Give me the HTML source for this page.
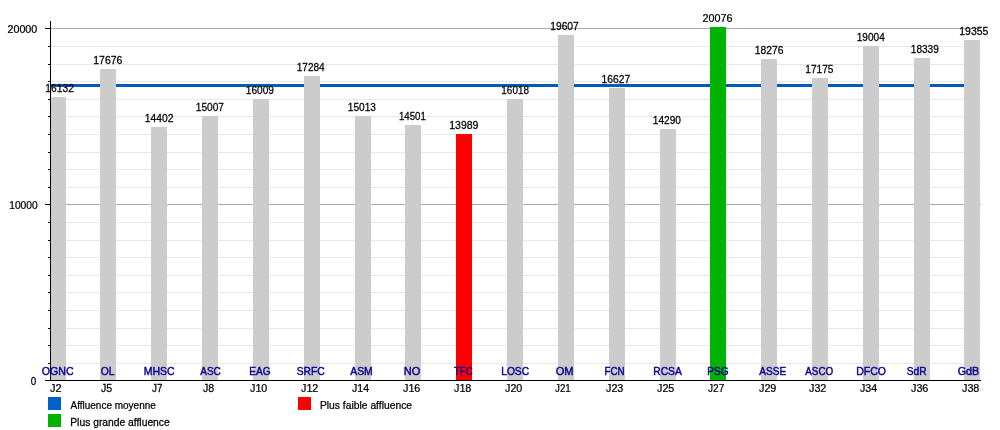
<!DOCTYPE html>
<html><head><meta charset="utf-8"><title>Affluence</title>
<style>
html,body{margin:0;padding:0;background:#fff;}
body{width:1000px;height:430px;overflow:hidden;}
svg{display:block;}
text{font-family:"Liberation Sans",Arial,Helvetica,sans-serif;font-size:10.7px;fill:#000;stroke:#000;stroke-width:.25px;white-space:pre;}
.j,.c{font-size:11px;}
.c{fill:#0b0092;stroke:#0b0092;stroke-width:.45px;}
</style></head><body>
<svg width="1000" height="430" viewBox="0 0 1000 430">
<rect width="1000" height="430" fill="#fff"/>
<g shape-rendering="crispEdges">
<rect x="51" y="363" width="930" height="1" fill="#e8e8e8"/>
<rect x="51" y="345" width="930" height="1" fill="#e8e8e8"/>
<rect x="51" y="328" width="930" height="1" fill="#e8e8e8"/>
<rect x="51" y="310" width="930" height="1" fill="#e8e8e8"/>
<rect x="51" y="292" width="930" height="1" fill="#e8e8e8"/>
<rect x="51" y="275" width="930" height="1" fill="#e8e8e8"/>
<rect x="51" y="257" width="930" height="1" fill="#e8e8e8"/>
<rect x="51" y="240" width="930" height="1" fill="#e8e8e8"/>
<rect x="51" y="222" width="930" height="1" fill="#e8e8e8"/>
<rect x="51" y="204" width="930" height="1" fill="#aaaaaa"/>
<rect x="51" y="187" width="930" height="1" fill="#e8e8e8"/>
<rect x="51" y="169" width="930" height="1" fill="#e8e8e8"/>
<rect x="51" y="152" width="930" height="1" fill="#e8e8e8"/>
<rect x="51" y="134" width="930" height="1" fill="#e8e8e8"/>
<rect x="51" y="116" width="930" height="1" fill="#e8e8e8"/>
<rect x="51" y="99" width="930" height="1" fill="#e8e8e8"/>
<rect x="51" y="81" width="930" height="1" fill="#e8e8e8"/>
<rect x="51" y="64" width="930" height="1" fill="#e8e8e8"/>
<rect x="51" y="46" width="930" height="1" fill="#e8e8e8"/>
<rect x="51" y="28" width="930" height="1" fill="#aaaaaa"/>
<rect x="51" y="84" width="929" height="3" fill="#005bbd"/>
<rect x="50" y="97" width="16" height="283" fill="#cccccc"/>
<rect x="100" y="69" width="16" height="311" fill="#cccccc"/>
<rect x="151" y="127" width="16" height="253" fill="#cccccc"/>
<rect x="202" y="116" width="16" height="264" fill="#cccccc"/>
<rect x="253" y="99" width="16" height="281" fill="#cccccc"/>
<rect x="304" y="76" width="16" height="304" fill="#cccccc"/>
<rect x="355" y="116" width="16" height="264" fill="#cccccc"/>
<rect x="405" y="125" width="16" height="255" fill="#cccccc"/>
<rect x="456" y="134" width="16" height="246" fill="#ff0000"/>
<rect x="507" y="99" width="16" height="281" fill="#cccccc"/>
<rect x="558" y="35" width="16" height="345" fill="#cccccc"/>
<rect x="609" y="88" width="16" height="292" fill="#cccccc"/>
<rect x="660" y="129" width="16" height="251" fill="#cccccc"/>
<rect x="710" y="27" width="16" height="353" fill="#00b300"/>
<rect x="761" y="59" width="16" height="321" fill="#cccccc"/>
<rect x="812" y="78" width="16" height="302" fill="#cccccc"/>
<rect x="863" y="46" width="16" height="334" fill="#cccccc"/>
<rect x="914" y="58" width="16" height="322" fill="#cccccc"/>
<rect x="964" y="40" width="16" height="340" fill="#cccccc"/>
<rect x="50" y="21" width="1" height="360" fill="#000"/>
<rect x="45" y="380" width="936" height="1" fill="#000"/>
<rect x="48" y="363" width="2" height="1" fill="#000"/>
<rect x="48" y="345" width="2" height="1" fill="#000"/>
<rect x="48" y="328" width="2" height="1" fill="#000"/>
<rect x="48" y="310" width="2" height="1" fill="#000"/>
<rect x="48" y="292" width="2" height="1" fill="#000"/>
<rect x="48" y="275" width="2" height="1" fill="#000"/>
<rect x="48" y="257" width="2" height="1" fill="#000"/>
<rect x="48" y="240" width="2" height="1" fill="#000"/>
<rect x="48" y="222" width="2" height="1" fill="#000"/>
<rect x="45" y="204" width="5" height="1" fill="#000"/>
<rect x="48" y="187" width="2" height="1" fill="#000"/>
<rect x="48" y="169" width="2" height="1" fill="#000"/>
<rect x="48" y="152" width="2" height="1" fill="#000"/>
<rect x="48" y="134" width="2" height="1" fill="#000"/>
<rect x="48" y="116" width="2" height="1" fill="#000"/>
<rect x="48" y="99" width="2" height="1" fill="#000"/>
<rect x="48" y="81" width="2" height="1" fill="#000"/>
<rect x="48" y="64" width="2" height="1" fill="#000"/>
<rect x="48" y="46" width="2" height="1" fill="#000"/>
<rect x="45" y="28" width="5" height="1" fill="#000"/>
<rect x="48" y="397" width="13" height="13" fill="#0062c8"/>
<rect x="48" y="414" width="13" height="13" fill="#00b300"/>
<rect x="298" y="397" width="13" height="13" fill="#ff0000"/>
</g>
<text transform="translate(45.25,91.85) scale(0.9636,1)">16132</text>
<text class="c" transform="translate(41.75,374.85) scale(0.9664,1)">OGNC</text>
<text class="j" transform="translate(50.00,392.10) scale(0.9895,1)">J2</text>
<text transform="translate(93.25,63.85) scale(0.9807,1)">17676</text>
<text class="c" transform="translate(100.75,374.85) scale(0.9403,1)">OL</text>
<text class="j" transform="translate(101.00,392.10) scale(0.9680,1)">J5</text>
<text transform="translate(144.75,121.85) scale(0.9636,1)">14402</text>
<text class="c" transform="translate(143.75,374.85) scale(0.9522,1)">MHSC</text>
<text class="j" transform="translate(152.00,392.10) scale(0.8976,1)">J7</text>
<text transform="translate(195.75,110.85) scale(0.9464,1)">15007</text>
<text class="c" transform="translate(200.25,374.85) scale(0.9089,1)">ASC</text>
<text class="j" transform="translate(203.00,392.10) scale(0.9680,1)">J8</text>
<text transform="translate(245.75,93.85) scale(0.9464,1)">16009</text>
<text class="c" transform="translate(249.25,374.85) scale(0.9200,1)">EAG</text>
<text class="j" transform="translate(250.00,392.10) scale(0.9786,1)">J10</text>
<text transform="translate(296.75,70.85) scale(0.9374,1)">17284</text>
<text class="c" transform="translate(296.75,374.85) scale(0.9370,1)">SRFC</text>
<text class="j" transform="translate(301.00,392.10) scale(0.9802,1)">J12</text>
<text transform="translate(347.75,110.85) scale(0.9464,1)">15013</text>
<text class="c" transform="translate(350.25,374.85) scale(0.9414,1)">ASM</text>
<text class="j" transform="translate(352.00,392.10) scale(0.9646,1)">J14</text>
<text transform="translate(399.00,119.85) scale(0.9031,1)">14501</text>
<text class="c" transform="translate(403.75,374.85) scale(1.0007,1)">NO</text>
<text class="j" transform="translate(403.00,392.10) scale(0.9802,1)">J16</text>
<text transform="translate(449.25,128.85) scale(0.9807,1)">13989</text>
<text class="c" transform="translate(454.00,374.85) scale(0.8728,1)">TFC</text>
<text class="j" transform="translate(454.00,392.10) scale(0.9802,1)">J18</text>
<text transform="translate(501.35,93.85) scale(0.9295,1)">16018</text>
<text class="c" transform="translate(501.25,374.85) scale(0.9288,1)">LOSC</text>
<text class="j" transform="translate(505.00,392.10) scale(0.9786,1)">J20</text>
<text transform="translate(550.25,29.85) scale(0.9601,1)">19607</text>
<text class="c" transform="translate(555.75,374.85) scale(1.0090,1)">OM</text>
<text class="j" transform="translate(555.00,392.10) scale(0.8912,1)">J21</text>
<text transform="translate(601.60,82.85) scale(0.9621,1)">16627</text>
<text class="c" transform="translate(604.50,374.85) scale(0.8858,1)">FCN</text>
<text class="j" transform="translate(606.00,392.10) scale(0.9802,1)">J23</text>
<text transform="translate(652.75,123.85) scale(0.9463,1)">14290</text>
<text class="c" transform="translate(653.25,374.85) scale(0.9367,1)">RCSA</text>
<text class="j" transform="translate(657.00,392.10) scale(0.9802,1)">J25</text>
<text transform="translate(702.50,21.85) scale(1.0057,1)">20076</text>
<text class="c" transform="translate(707.25,374.85) scale(0.9200,1)">PSG</text>
<text class="j" transform="translate(708.00,392.10) scale(0.9209,1)">J27</text>
<text transform="translate(754.75,53.85) scale(0.9636,1)">18276</text>
<text class="c" transform="translate(759.25,374.85) scale(0.9200,1)">ASSE</text>
<text class="j" transform="translate(759.00,392.10) scale(0.9802,1)">J29</text>
<text transform="translate(805.25,72.85) scale(0.9464,1)">17175</text>
<text class="c" transform="translate(805.25,374.85) scale(0.8959,1)">ASCO</text>
<text class="j" transform="translate(809.00,392.10) scale(0.9802,1)">J32</text>
<text transform="translate(856.75,40.85) scale(0.9428,1)">19004</text>
<text class="c" transform="translate(856.25,374.85) scale(0.9535,1)">DFCO</text>
<text class="j" transform="translate(860.00,392.10) scale(0.9646,1)">J34</text>
<text transform="translate(910.80,52.85) scale(0.9430,1)">18339</text>
<text class="c" transform="translate(906.75,374.85) scale(0.9319,1)">SdR</text>
<text class="j" transform="translate(911.00,392.10) scale(0.9802,1)">J36</text>
<text transform="translate(959.25,34.85) scale(0.9811,1)">19355</text>
<text class="c" transform="translate(957.75,374.85) scale(0.9782,1)">GdB</text>
<text class="j" transform="translate(962.00,392.10) scale(0.9802,1)">J38</text>
<text transform="translate(7.55,32.85) scale(0.9973,1)">20000</text>
<text transform="translate(9.25,208.85) scale(0.9547,1)">10000</text>
<text transform="translate(30.75,384.85) scale(0.9200,1)">0</text>
<text transform="translate(70.50,408.85) scale(0.9340,1)">Affluence moyenne</text>
<text transform="translate(70.25,425.85) scale(0.9636,1)">Plus grande affluence</text>
<text transform="translate(319.95,408.85) scale(0.9647,1)">Plus faible affluence</text>
</svg></body></html>
